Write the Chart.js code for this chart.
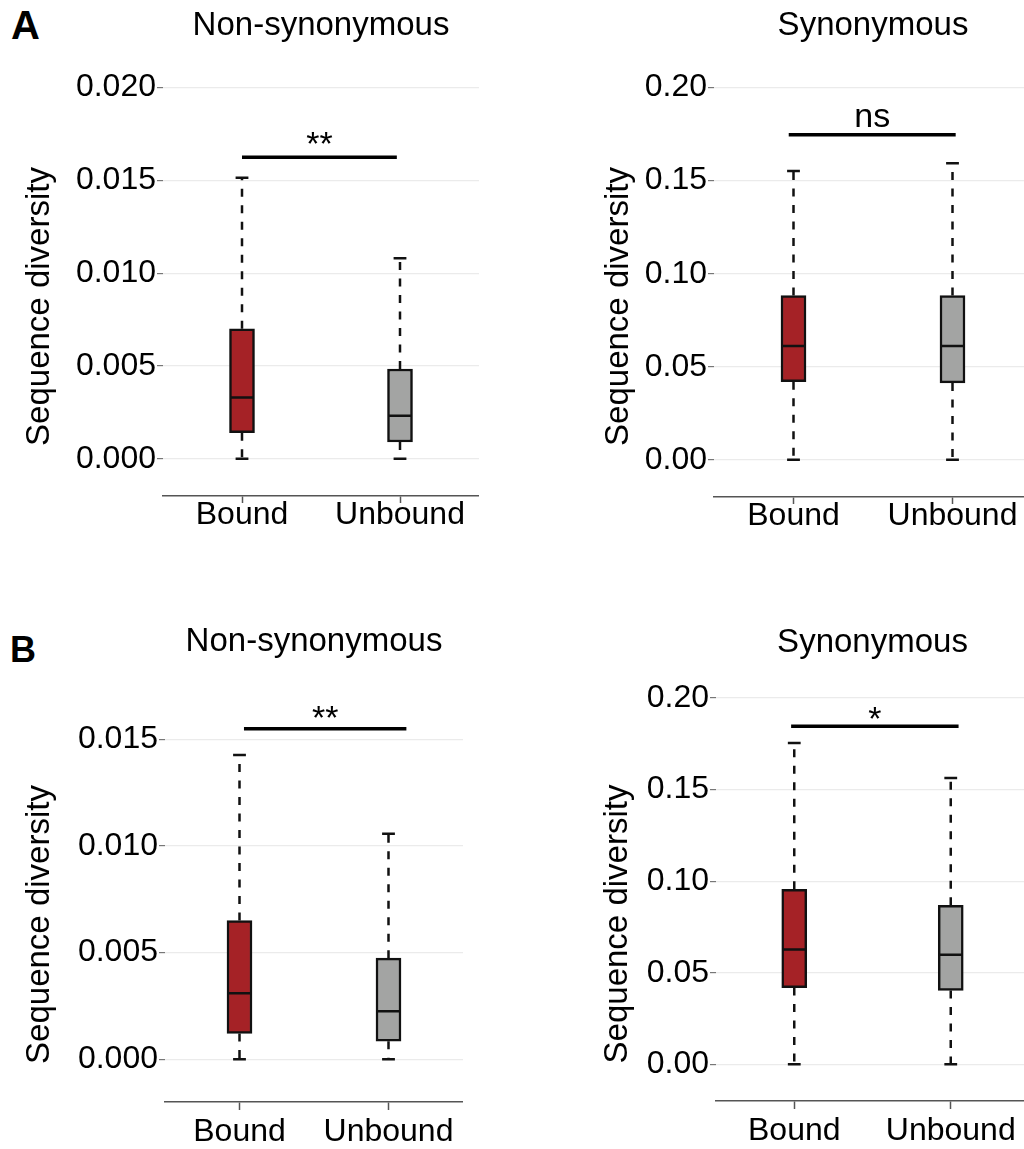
<!DOCTYPE html>
<html lang="en">
<head>
  <meta charset="UTF-8" />
  <title>Sequence diversity - bound vs unbound</title>
  <style>
    html, body {
      margin: 0;
      padding: 0;
      background: #fff;
      overflow: hidden;
    }
    body {
      width: 1024px;
      height: 1149px;
      position: relative;
      font-family: 'Liberation Sans', Arial, sans-serif;
    }
    .panel { position: absolute; }
    .tag {
      position: absolute;
      font-weight: bold;
      color: #000;
    }
  </style>
</head>
<body>
  <div class="tag" style="left:11px; top:5px; font-size:40px; line-height:40px;">A</div>
  <div class="tag" style="left:10px; top:632px; font-size:36px; line-height:36px;">B</div>

  <canvas id="chartA1" class="panel" style="left:0px; top:0px;" width="479" height="560"></canvas>
  <canvas id="chartA2" class="panel" style="left:520px; top:0px;" width="512" height="560"></canvas>
  <canvas id="chartB1" class="panel" style="left:0px; top:600px;" width="463" height="549"></canvas>
  <canvas id="chartB2" class="panel" style="left:520px; top:600px;" width="509" height="549"></canvas>

  <script src="https://cdn.jsdelivr.net/npm/chart.js"></script>
  <script>
    const FONT = "'Liberation Sans', Arial, sans-serif";

    const groups = ['Bound', 'Unbound'];
    const groupColors = ['#A52226', '#A3A4A3'];
    const yTitle = 'Sequence diversity';

    // A - non-synonymous
    const a1Min = [0, 0];
    const a1Q1 = [0.00141, 0.00091];
    const a1Median = [0.00330, 0.00232];
    const a1Q3 = [0.00701, 0.00484];
    const a1Max = [0.01514, 0.01081];
    const a1Ticks = [0, 0.005, 0.010, 0.015, 0.020];
    const a1TickLabels = ['0.000', '0.005', '0.010', '0.015', '0.020'];
    const a1Sig = '**';
    const a1SigY = 0.01625;
    const a1SigSpan = [0, 0.98];

    // A - synonymous
    const a2Min = [0, 0];
    const a2Q1 = [0.0420, 0.0413];
    const a2Median = [0.0611, 0.0611];
    const a2Q3 = [0.0883, 0.0883];
    const a2Max = [0.1552, 0.1593];
    const a2Ticks = [0, 0.05, 0.10, 0.15, 0.20];
    const a2TickLabels = ['0.00', '0.05', '0.10', '0.15', '0.20'];
    const a2Sig = 'ns';
    const a2SigY = 0.1747;
    const a2SigSpan = [-0.03, 1.02];

    // B - non-synonymous
    const b1Min = [0, 0];
    const b1Q1 = [0.00121, 0.00085];
    const b1Median = [0.00310, 0.00225];
    const b1Q3 = [0.00650, 0.00474];
    const b1Max = [0.01426, 0.01057];
    const b1Ticks = [0, 0.005, 0.010, 0.015];
    const b1TickLabels = ['0.000', '0.005', '0.010', '0.015'];
    const b1Sig = '**';
    const b1SigY = 0.01549;
    const b1SigSpan = [0.03, 1.12];

    // B - synonymous
    const b2Min = [0, 0];
    const b2Q1 = [0.0419, 0.0403];
    const b2Median = [0.0627, 0.0598];
    const b2Q3 = [0.0956, 0.0868];
    const b2Max = [0.1754, 0.1563];
    const b2Ticks = [0, 0.05, 0.10, 0.15, 0.20];
    const b2TickLabels = ['0.00', '0.05', '0.10', '0.15', '0.20'];
    const b2Sig = '*';
    const b2SigY = 0.1846;
    const b2SigSpan = [-0.02, 1.05];

    // draws whiskers, caps, medians, the significance bar and the y title
    const boxExtras = {
      id: 'boxExtras',
      beforeDatasetsDraw(chart, args, opts) {
        const { ctx } = chart;
        const x = chart.scales.x, y = chart.scales.y;
        ctx.save();
        ctx.strokeStyle = '#111';
        ctx.lineWidth = 2.5;
        opts.min.forEach((_, i) => {
          const px = x.getPixelForValue(i);
          ctx.setLineDash([8, 8.5]);
          ctx.beginPath();
          ctx.moveTo(px, y.getPixelForValue(opts.q3[i]));
          ctx.lineTo(px, y.getPixelForValue(opts.max[i]));
          ctx.moveTo(px, y.getPixelForValue(opts.q1[i]));
          ctx.lineTo(px, y.getPixelForValue(opts.min[i]));
          ctx.stroke();
          ctx.setLineDash([]);
          ctx.beginPath();
          [opts.max[i], opts.min[i]].forEach(v => {
            const py = y.getPixelForValue(v);
            ctx.moveTo(px - 6.4, py);
            ctx.lineTo(px + 6.4, py);
          });
          ctx.stroke();
        });
        ctx.restore();
      },
      afterDatasetsDraw(chart, args, opts) {
        const { ctx } = chart;
        const x = chart.scales.x, y = chart.scales.y;
        ctx.save();
        ctx.strokeStyle = '#111';
        ctx.lineWidth = 2.5;
        ctx.beginPath();
        opts.median.forEach((v, i) => {
          const px = x.getPixelForValue(i);
          const py = y.getPixelForValue(v);
          ctx.moveTo(px - 12, py);
          ctx.lineTo(px + 12, py);
        });
        ctx.stroke();

        // significance bar
        const sy = y.getPixelForValue(opts.sigY);
        const sx0 = x.getPixelForValue(opts.sigSpan[0]);
        const sx1 = x.getPixelForValue(opts.sigSpan[1]);
        ctx.strokeStyle = '#000';
        ctx.lineWidth = 3.5;
        ctx.beginPath();
        ctx.moveTo(sx0, sy);
        ctx.lineTo(sx1, sy);
        ctx.stroke();

        ctx.fillStyle = '#000';
        ctx.font = '34px ' + FONT;
        ctx.textAlign = 'center';
        ctx.textBaseline = 'alphabetic';
        const m = ctx.measureText(opts.sig);
        ctx.fillText(opts.sig, (sx0 + sx1) / 2, sy - opts.sigGap - m.actualBoundingBoxDescent);

        // y axis title
        ctx.translate(opts.yTitleX, opts.yTitleY);
        ctx.rotate(-Math.PI / 2);
        ctx.font = '33px ' + FONT;
        ctx.fillText(yTitle, 0, 0);
        ctx.restore();
      }
    };

    function makeBoxChart(id, title, stats, ticks, tickLabels, L) {
      return new Chart(document.getElementById(id), {
        type: 'bar',
        data: {
          labels: groups,
          datasets: [{
            data: stats.q1.map((v, i) => [v, stats.q3[i]]),
            backgroundColor: groupColors,
            borderColor: '#111',
            borderWidth: 2.5,
            borderSkipped: false,
            barThickness: 25
          }]
        },
        options: {
          responsive: false,
          animation: false,
          layout: { padding: 0 },
          plugins: {
            legend: { display: false },
            tooltip: { enabled: false },
            title: {
              display: true,
              text: title,
              fullSize: false,
              color: '#000',
              font: { family: FONT, size: 33, weight: 'normal', lineHeight: 1.2 },
              padding: { top: L.titleTop, bottom: L.titleBottom }
            },
            boxExtras: Object.assign({}, stats, {
              sigGap: L.sigGap,
              yTitleX: L.yTitleX,
              yTitleY: L.yTitleY
            })
          },
          scales: {
            x: {
              grid: {
                display: true,
                drawOnChartArea: false,
                offset: false,
                tickLength: L.xTickLen,
                tickColor: '#555',
                tickWidth: 1.5
              },
              border: { display: true, color: '#555', width: 1.5 },
              ticks: {
                color: '#000',
                font: { family: FONT, size: 32, lineHeight: 1 },
                padding: L.xLabelPad
              },
              afterFit: s => { s.height = L.xAxisHeight; }
            },
            y: {
              min: L.yMin,
              max: L.yMax,
              afterBuildTicks: s => { s.ticks = ticks.map(v => ({ value: v })); },
              ticks: {
                color: '#000',
                font: { family: FONT, size: 32 },
                padding: 1,
                callback: (v, i) => tickLabels[i]
              },
              grid: {
                color: '#EBEBEB',
                lineWidth: 1.2,
                tickLength: 6,
                tickColor: '#777',
                tickWidth: 1.2
              },
              border: { display: false },
              afterFit: s => { s.width = L.yAxisWidth; }
            }
          }
        },
        plugins: [boxExtras]
      });
    }

    makeBoxChart('chartA1', 'Non-synonymous',
      { min: a1Min, q1: a1Q1, median: a1Median, q3: a1Q3, max: a1Max, sig: a1Sig, sigY: a1SigY, sigSpan: a1SigSpan },
      a1Ticks, a1TickLabels,
      { yMin: -0.002, yMax: 0.021, yAxisWidth: 163, xAxisHeight: 64, titleTop: 6, titleBottom: 23.4,
        xTickLen: 7, xLabelPad: -4, sigGap: 12.7, yTitleX: 49, yTitleY: 306.5 });

    makeBoxChart('chartA2', 'Synonymous',
      { min: a2Min, q1: a2Q1, median: a2Median, q3: a2Q3, max: a2Max, sig: a2Sig, sigY: a2SigY, sigSpan: a2SigSpan },
      a2Ticks, a2TickLabels,
      { yMin: -0.02, yMax: 0.21, yAxisWidth: 194, xAxisHeight: 63, titleTop: 6, titleBottom: 23.4,
        xTickLen: 7, xLabelPad: -4, sigGap: 7.5, yTitleX: 108, yTitleY: 306.5 });

    makeBoxChart('chartB1', 'Non-synonymous',
      { min: b1Min, q1: b1Q1, median: b1Median, q3: b1Q3, max: b1Max, sig: b1Sig, sigY: b1SigY, sigSpan: b1SigSpan },
      b1Ticks, b1TickLabels,
      { yMin: -0.002, yMax: 0.0168, yAxisWidth: 165, xAxisHeight: 47, titleTop: 22.2, titleBottom: 39,
        xTickLen: 8, xLabelPad: 6.4, sigGap: 11.2, yTitleX: 49, yTitleY: 324.5 });

    makeBoxChart('chartB2', 'Synonymous',
      { min: b2Min, q1: b2Q1, median: b2Median, q3: b2Q3, max: b2Max, sig: b2Sig, sigY: b2SigY, sigSpan: b2SigSpan },
      b2Ticks, b2TickLabels,
      { yMin: -0.02, yMax: 0.205, yAxisWidth: 196, xAxisHeight: 48, titleTop: 23.2, titleBottom: 26,
        xTickLen: 8, xLabelPad: 6.4, sigGap: 7, yTitleX: 107, yTitleY: 324 });
  </script>
</body>
</html>
